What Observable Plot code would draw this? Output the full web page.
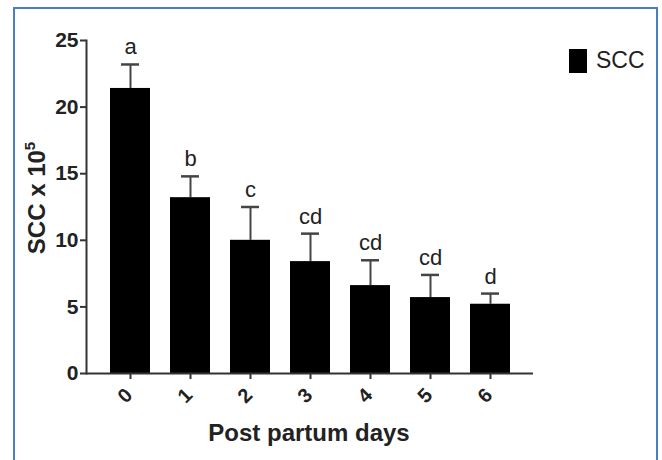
<!DOCTYPE html>
<html>
<head>
<meta charset="utf-8">
<script src="https://cdn.jsdelivr.net/npm/d3@7"></script>
<script src="https://cdn.jsdelivr.net/npm/@observablehq/plot@0.6"></script>
<style>
  body { margin: 0; background: #fff; }
  #wrap { position: relative; width: 662px; height: 460px; overflow: hidden; font-family: "Liberation Sans", Arial, sans-serif; }
  #border { position: absolute; left: 13px; top: 7px; width: 645px; height: 470px; border: 2px solid #4a7fc0; box-sizing: border-box; pointer-events: none; }
  #legend { position: absolute; left: 569px; top: 47px; display: flex; align-items: center; }
  #legend .sw { width: 18px; height: 24px; background: #000; }
  #legend .lb { margin-left: 9px; font-size: 23px; color: #222; }
  #chart { position: absolute; left: 0; top: 0; }
</style>
</head>
<body>
<div id="wrap">
  <div id="chart"></div>
  <div id="border"></div>
  <div id="legend"><div class="sw"></div><div class="lb">SCC</div></div>
</div>
<script>
const days = ["0", "1", "2", "3", "4", "5", "6"];
const means = [21.4, 13.2, 10.0, 8.4, 6.6, 5.7, 5.2];
const errors = [1.8, 1.6, 2.5, 2.1, 1.9, 1.7, 0.8];
const letters = ["a", "b", "c", "cd", "cd", "cd", "d"];
const yTicks = [0, 5, 10, 15, 20, 25];

const data = days.map((d, i) => ({day: d, mean: means[i], err: errors[i], top: means[i] + errors[i], letter: letters[i]}));

const axisColor = "#333";
const plot = Plot.plot({
  width: 662,
  height: 460,
  marginLeft: 86,
  marginRight: 129,
  marginTop: 40,
  marginBottom: 87,
  style: {fontFamily: "Liberation Sans, Arial, sans-serif", background: "transparent"},
  x: {domain: days, paddingInner: 0.34, paddingOuter: 0.35, label: null},
  y: {domain: [0, 25], label: null},
  marks: [
    Plot.ruleX(data, {x: "day", y1: "mean", y2: "top", stroke: "#444", strokeWidth: 2}),
    Plot.tickY(data, {x: "day", y: "top", stroke: "#444", strokeWidth: 2.5, insetLeft: 11, insetRight: 11}),
    Plot.barY(data, {x: "day", y: "mean", fill: "#000"}),
    Plot.text(data, {x: "day", y: "top", text: "letter", lineAnchor: "bottom", dy: -10, fontSize: 22, fill: "#222"}),
    Plot.ruleY([0], {stroke: axisColor, strokeWidth: 2}),
    Plot.frame({anchor: "left", stroke: axisColor, strokeWidth: 2}),
    Plot.axisY({ticks: yTicks, tickSize: 6, stroke: axisColor, tickFormat: () => "", label: null, strokeWidth: 2}),
    Plot.axisX({tickSize: 6, stroke: axisColor, tickFormat: () => "", label: null, strokeWidth: 2}),
    // tick labels
    Plot.text(yTicks, {y: (d) => d, frameAnchor: "left", dx: -8, textAnchor: "end", fontSize: 21, fontWeight: "bold", fill: "#222"}),
    Plot.text(days, {x: (d) => d, frameAnchor: "bottom", dx: 3, dy: 23, rotate: -45, textAnchor: "end", fontSize: 20, fontWeight: "bold", fill: "#222"})
  ]
});

document.getElementById("chart").appendChild(plot);

const svg = d3.select(plot);
// x-axis title
svg.append("text")
  .attr("x", 309).attr("y", 441)
  .attr("text-anchor", "middle")
  .attr("font-size", 24).attr("font-weight", "bold").attr("fill", "#222")
  .text("Post partum days");
// y-axis title with superscript
const yl = svg.append("text")
  .attr("transform", "translate(45,198) rotate(-90)")
  .attr("text-anchor", "middle")
  .attr("font-size", 24).attr("font-weight", "bold").attr("fill", "#222");
yl.append("tspan").text("SCC x 10");
yl.append("tspan").attr("font-size", 15).attr("dy", -10).text("5");
</script>
</body>
</html>
